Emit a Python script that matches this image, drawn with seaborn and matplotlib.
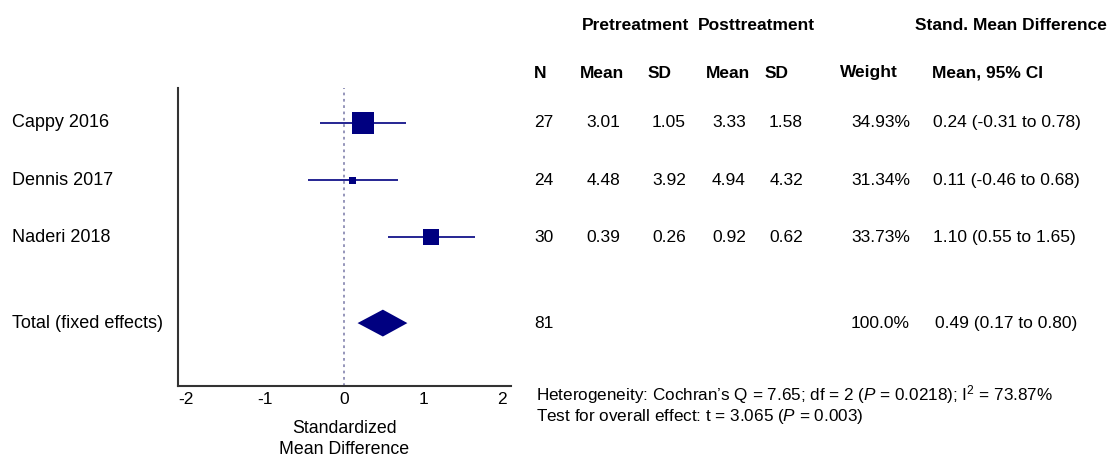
import matplotlib
matplotlib.use("Agg")
import matplotlib.pyplot as plt
import matplotlib.transforms as mtransforms
import seaborn as sns
import pandas as pd

# study data
studies = ["Cappy 2016", "Dennis 2017", "Naderi 2018"]
n = [27, 24, 30]
pre_mean = ["3.01", "4.48", "0.39"]
pre_sd = ["1.05", "3.92", "0.26"]
post_mean = ["3.33", "4.94", "0.92"]
post_sd = ["1.58", "4.32", "0.62"]
weight = ["34.93%", "31.34%", "33.73%"]
smd = [0.24, 0.11, 1.10]
ci_low = [-0.31, -0.46, 0.55]
ci_high = [0.78, 0.68, 1.65]

total_label = "Total (fixed effects)"
total_n = 81
total_weight = "100.0%"
total_smd = 0.49
total_low = 0.17
total_high = 0.80

heterogeneity = "Heterogeneity: Cochran\u2019s Q = 7.65; df = 2 ($\\it{P}$ = $\\it{0.0218}$); I$^2$ = 73.87%"
overall = "Test for overall effect: t = 3.065 ($\\it{P}$ = $\\it{0.003}$)"

xticks = [-2, -1, 0, 1, 2]

# styling
NAVY = "#000080"
box_area = [250, 25, 135]   # marker area (pt^2)
rows = [0, 1, 2]
total_row = 3.5

sns.set_theme(style="white")
plt.rcParams["font.family"] = ["Liberation Sans", "DejaVu Sans"]
plt.rcParams["mathtext.fontset"] = "custom"
plt.rcParams["mathtext.it"] = "Liberation Sans:italic"
plt.rcParams["mathtext.rm"] = "Liberation Sans"
plt.rcParams["text.color"] = "black"
plt.rcParams["axes.labelcolor"] = "black"

W, H = 1107, 459
fig = plt.figure(figsize=(W / 100, H / 100), dpi=100)
ax = fig.add_axes([178 / W, 1 - 386 / H, (511 - 178) / W, (386 - 88) / H])

ax.set_xlim(-2.1, 2.11)
ax.set_ylim(4.6, -0.61)

# reference line
ax.axvline(0, color="#8c8cb4", ls=(0, (1.5, 2)), lw=1.3, zorder=1)

# confidence intervals
ax.hlines(rows, ci_low, ci_high, color=NAVY, lw=1.2, zorder=2)

df = pd.DataFrame({"smd": smd, "row": rows, "area": box_area})
sns.scatterplot(data=df, x="smd", y="row", size="area",
                sizes=(min(box_area), max(box_area)), marker="s",
                color=NAVY, linewidth=0, legend=False, ax=ax, zorder=3)

# pooled diamond
hh = 0.235
ax.fill([total_low, total_smd, total_high, total_smd],
        [total_row, total_row - hh, total_row, total_row + hh],
        color=NAVY, lw=0, zorder=3)

# axes styling
for side in ["top", "right"]:
    ax.spines[side].set_visible(False)
for side in ["left", "bottom"]:
    ax.spines[side].set_color("#333333")
    ax.spines[side].set_linewidth(1.5)
ax.set_yticks(rows + [total_row])
ax.set_yticklabels([])
ax.set_ylabel("")

fs = 12.5
ax.set_xticks(xticks)
ax.set_xticklabels([str(t) for t in xticks], fontsize=fs)
ax.tick_params(axis="both", direction="in", length=7, width=1.5,
               color="#333333", pad=4, labelcolor="black")
ax.set_xlabel("Standardized\nMean Difference", fontsize=12.8, labelpad=10,
              linespacing=1.3)

trans = mtransforms.blended_transform_factory(fig.transFigure, ax.transData)


def px(x):
    return x / W


def put(x, y, s, ha="left", size=fs):
    ax.text(px(x), y, s, transform=trans, ha=ha, va="center", fontsize=size,
            clip_on=False)


# study labels
for r, name in zip(rows, studies):
    put(12, r, name, size=13)
put(12, total_row, total_label, size=13)


# table headers (figure coords)
def head(x, y, s):
    fig.text(px(x), 1 - y / H, s, ha="left", va="center", fontsize=fs,
             fontweight="bold")


head(582, 25, "Pretreatment")
head(698, 25, "Posttreatment")
head(915, 25, "Stand. Mean Difference")
head(534, 73, "N")
head(580, 73, "Mean")
head(648, 73, "SD")
head(706, 73, "Mean")
head(765, 73, "SD")
head(840, 73, "Weight")
head(932, 73, "Mean, 95% CI")

# table rows
for i, r in enumerate(rows):
    put(534, r, str(n[i]))
    put(620, r, pre_mean[i], ha="right")
    put(686, r, pre_sd[i], ha="right")
    put(746, r, post_mean[i], ha="right")
    put(803, r, post_sd[i], ha="right")
    put(910, r, weight[i], ha="right")
    put(933, r, f"{smd[i]:.2f} ({ci_low[i]:.2f} to {ci_high[i]:.2f})")

put(534, total_row, str(total_n))
put(910, total_row, total_weight, ha="right")
put(935, total_row, f"{total_smd:.2f} ({total_low:.2f} to {total_high:.2f})")

fig.text(px(536), 1 - 395 / H, heterogeneity, ha="left", va="center", fontsize=12.3)
fig.text(px(536), 1 - 416 / H, overall, ha="left", va="center", fontsize=12.3)

fig.savefig("out.png", dpi=100, facecolor="white")
